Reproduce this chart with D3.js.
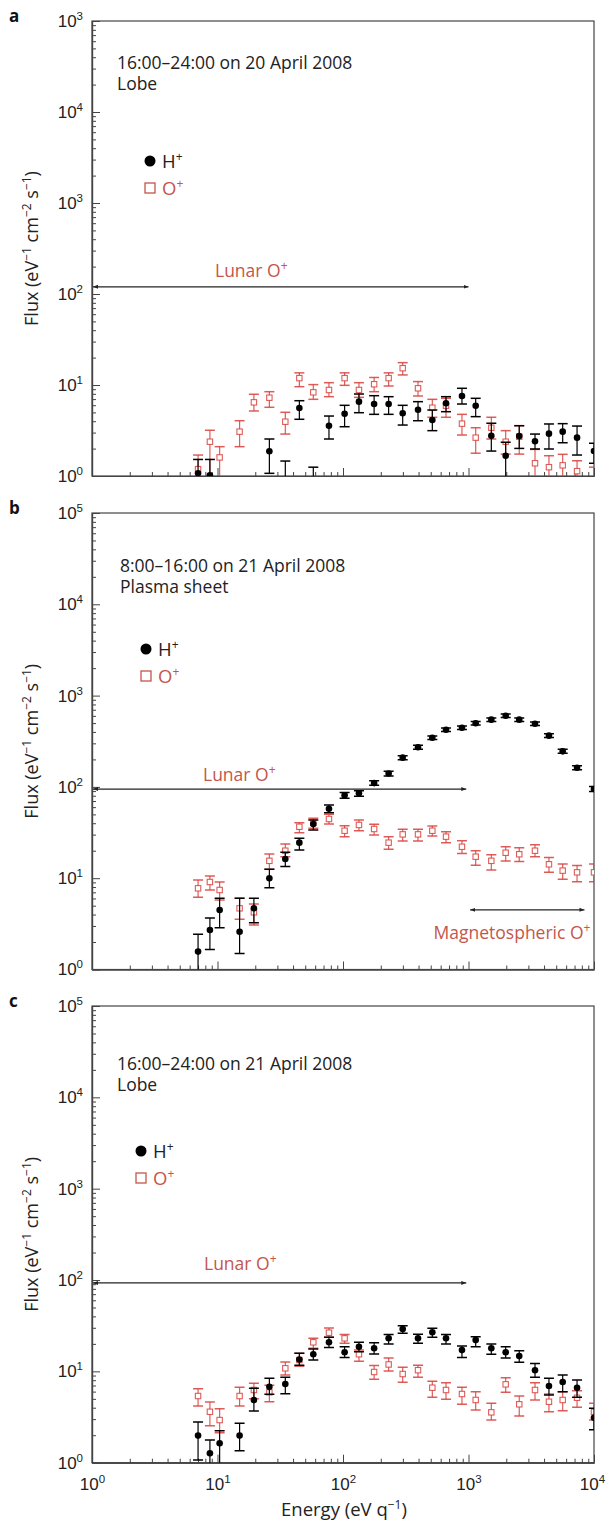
<!DOCTYPE html>
<html>
<head>
<meta charset="utf-8">
<script src="https://cdn.jsdelivr.net/npm/d3@7"></script>
<style>
    body { margin: 0; background: #fff; }
    svg { display: block; font-family: 'Open Sans', sans-serif; }
</style>
</head>
<body>
<svg class="canvas" width="606" height="1524"></svg>
<script>
// energy channels (eV q^-1), same for every panel
const energy = [7.0, 8.7, 10.4, 15.0, 19.5, 25.9, 34.7, 44.9, 58.0, 77.3, 103, 134, 177, 231,
    299, 396, 515, 662, 887, 1141, 1520, 1978, 2537, 3388, 4376, 5630, 7328, 10000];

// tick labels (exponents of 10), bottom to top
const yTickLabelsA = ['0', '1', '2', '3', '4', '3'];
const yTickLabels = ['0', '1', '2', '3', '4', '5'];
const xTickLabels = ['0', '1', '2', '3', '4'];

// panel a: 16:00-24:00 on 20 April 2008, lobe
const aH = [1.07, 1.02, null, null, null, 1.87, 0.8, 5.59, 0.8, 3.57, 4.84, 6.56, 6.18, 6.18,
    4.89, 5.35, 4.12, 6.29, 7.57, 5.92, 2.77, 1.67, 2.75, 2.41, 2.92, 3.07, 2.64, 1.88];
const aHLo = [0.5, 0.5, null, null, null, 1.07, 0.5, 4.2, 0.5, 2.55, 3.48, 4.96, 4.76, 4.76,
    3.63, 4.05, 3.15, 5.09, 6.18, 4.49, 1.88, 0.5, 2.01, 1.98, 1.98, 2.32, 1.7, 1.38];
const aHHi = [1.52, 1.52, null, null, null, 2.55, 1.46, 6.72, 1.25, 4.56, 5.98, 7.96, 7.63, 7.44,
    5.98, 6.56, 5.31, 7.44, 9.2, 7.14, 3.8, 2.35, 3.57, 2.89, 3.73, 3.76, 3.54, 2.29];
const aO = [1.19, 2.38, 1.6, 3.07, 6.45, 7.25, 3.95, 11.9, 8.31, 8.81, 11.9, 8.81, 10.2, 11.9,
    15.3, 9.2, 5.63, 5.92, 3.76, 2.64, 3.39, 2.38, 2.7, 1.38, 1.25, 1.31, 1.13, 0.9];
const aOLo = [0.9, 0.9, 0.9, 2.1, 5.18, 5.69, 2.89, 9.58, 6.96, 7.44, 9.92, 7.32, 8.44, 9.75,
    12.9, 7.57, 4.42, 4.42, 2.82, 1.78, 2.55, 1.74, 1.74, 0.9, 0.9, 0.9, 0.9, 0.5];
const aOHi = [1.7, 3.18, 2.1, 4.05, 7.91, 8.44, 5.01, 13.6, 10.1, 10.6, 13.6, 10.6, 12.1, 13.6,
    17.6, 10.9, 6.96, 7.14, 4.76, 3.39, 4.42, 3.15, 3.57, 1.96, 1.67, 1.73, 1.47, 1.25];

// panel b: 8:00-16:00 on 21 April 2008, plasma sheet
const bH = [1.57, 2.71, 4.49, 2.59, 4.68, 9.97, 16.2, 24.5, 39.2, 57.7, 80.9, 85.1, 110, 140,
    209, 272, 346, 423, 445, 498, 545, 602, 545, 492, 364, 245, 162, 94.8];
const bHLo = [0.5, 1.66, 2.87, 1.5, 3.26, 7.87, 13.4, 20.4, 33.7, 52.2, 75, 79, 104, 132,
    198, 258, 330, 404, 425, 476, 521, 576, 521, 470, 347, 233, 154, 89];
const bHHi = [2.43, 3.66, 6.03, 6.03, 6.03, 12.5, 19.2, 27.4, 43.4, 63.4, 87, 91, 117, 148,
    220, 286, 362, 442, 466, 521, 570, 629, 570, 515, 382, 258, 171, 101];
const bO = [7.75, 9.09, 7.43, 4.68, 4.23, 15.5, 20.0, 36.6, 40.5, 44.5, 33.1, 38.3, 34.6, 24.5,
    30.2, 30.2, 33.1, 28.5, 22.1, 17.2, 15.5, 19.0, 18.3, 20.0, 14.2, 12.1, 11.6, 11.6];
const bOLo = [6.18, 7.43, 5.77, 3.55, 3.07, 12.5, 17.2, 31.5, 35.2, 39.2, 28.5, 33.1, 29.7, 20.7,
    25.5, 25.5, 29.0, 24.5, 18.7, 13.9, 12.3, 15.4, 15.2, 17.2, 11.6, 9.73, 9.16, 9.16];
const bOHi = [9.56, 10.6, 9.09, 6.03, 5.22, 18.4, 23.7, 40.5, 45.3, 50.1, 37.6, 43.4, 38.9, 28.5,
    34.3, 34.3, 37.3, 32.3, 25.7, 20.0, 18.1, 22.1, 21.6, 23.3, 16.9, 14.3, 13.8, 14.3];

// panel c: 16:00-24:00 on 21 April 2008, lobe
const cH = [1.98, 1.27, 1.63, 1.98, 4.86, 6.79, 7.27, 13.5, 15.4, 20.8, 16.2, 18.6, 17.9, 23.0,
    29.1, 23.0, 26.8, 23.0, 17.1, 22.0, 17.9, 16.2, 14.7, 10.3, 6.91, 7.64, 6.62, 3.11];
const cHLo = [1.07, 0.5, 0.5, 1.35, 3.68, 5.61, 5.69, 11.7, 13.3, 18.3, 14.2, 16.4, 15.5, 19.9,
    26.1, 20.3, 23.6, 19.9, 14.2, 18.6, 15.4, 14.0, 12.6, 8.61, 5.51, 5.98, 5.2, 2.3];
const cHHi = [2.79, 1.77, 2.24, 2.7, 6.52, 8.4, 8.61, 15.8, 17.6, 23.6, 18.6, 20.8, 20.6, 25.4,
    31.6, 25.5, 29.6, 25.4, 18.9, 23.9, 19.9, 18.6, 16.8, 12.2, 8.4, 9.12, 8.04, 3.94];
const cO = [5.37, 3.61, 2.93, 5.37, 6.25, 5.89, 10.8, 13.3, 20.8, 26.5, 23.0, 15.4, 9.84, 11.9,
    9.35, 10.3, 6.62, 6.25, 5.65, 4.86, 3.56, 7.21, 4.36, 6.25, 4.65, 4.86, 5.14, 3.61];
const cOLo = [4.18, 2.54, 2.13, 4.18, 5.02, 4.65, 9.12, 11.4, 17.9, 23.6, 20.3, 12.9, 8.18, 10.1,
    7.59, 8.61, 5.2, 4.94, 4.36, 3.77, 2.93, 5.9, 3.25, 4.86, 3.61, 3.71, 4.04, 2.93];
const cOHi = [6.45, 4.62, 3.9, 6.69, 7.4, 7.03, 12.7, 15.8, 23.0, 29.8, 25.4, 17.1, 11.6, 14.0,
    11.1, 11.7, 7.78, 7.51, 6.69, 5.98, 4.47, 8.51, 5.37, 7.51, 5.65, 5.98, 6.14, 4.47];

// annotation ranges: [energy from, energy to, flux]
const lunarA = [1, 1000, 120];
const lunarB = [1, 960, 94.6];
const lunarC = [1, 960, 93];
const magnetoB = [1030, 8400, 4.5];

const red = '#d8403b';
const redText = '#c4564b';
const ink = '#222';

const svg = d3.select('.canvas');
const xLeft = 92;
const xRight = 594;

// shared x scale
const xScale = d3.scaleLog().domain([1, 1e4]).range([xLeft, xRight]);

const panels = [
    {
        letter: 'a', top: 21, bottom: 476, yLabels: yTickLabelsA,
        title: ['16:00–24:00 on 20 April 2008', 'Lobe'], titleX: 117, titleY: 69,
        legendX: 150, legendY: 161, lunar: lunarA, lunarTextX: 215, lunarTextY: 277,
        H: aH, HLo: aHLo, HHi: aHHi, O: aO, OLo: aOLo, OHi: aOHi
    },
    {
        letter: 'b', top: 513, bottom: 969.5, yLabels: yTickLabels,
        title: ['8:00–16:00 on 21 April 2008', 'Plasma sheet'], titleX: 120, titleY: 572,
        legendX: 146, legendY: 649, lunar: lunarB, lunarTextX: 203, lunarTextY: 781,
        H: bH, HLo: bHLo, HHi: bHHi, O: bO, OLo: bOLo, OHi: bOHi
    },
    {
        letter: 'c', top: 1006, bottom: 1462.7, yLabels: yTickLabels,
        title: ['16:00–24:00 on 21 April 2008', 'Lobe'], titleX: 117, titleY: 1070,
        legendX: 141, legendY: 1151, lunar: lunarC, lunarTextX: 204, lunarTextY: 1270,
        H: cH, HLo: cHLo, HHi: cHHi, O: cO, OLo: cOLo, OHi: cOHi
    }
];

// write text with superscripts; parts starting with ^ are raised
function richText(sel, parts, rise = 7, supSize = 11) {
    let raised = false;
    parts.forEach((p) => {
        const sup = p.startsWith('^');
        const t = sel.append('tspan').text(sup ? p.slice(1) : p);
        if (sup) {
            t.attr('font-size', supSize);
            if (!raised) t.attr('dy', -rise);
            raised = true;
        } else if (raised) {
            t.attr('dy', rise);
            raised = false;
        }
    });
}

// arrow heads
const defs = svg.append('defs');
['end', 'start'].forEach((kind) => {
    defs.append('marker')
        .attr('id', 'arrow-' + kind)
        .attr('viewBox', '0 0 10 10')
        .attr('refX', kind === 'end' ? 10 : 0)
        .attr('refY', 5)
        .attr('markerWidth', 5)
        .attr('markerHeight', 5)
        .attr('markerUnits', 'userSpaceOnUse')
        .attr('orient', 'auto')
        .append('path')
        .attr('d', kind === 'end' ? 'M0,1 L10,5 L0,9 Z' : 'M10,1 L0,5 L10,9 Z')
        .attr('fill', ink);
});

const majors = [1, 10, 100, 1000, 10000, 100000];
const minorsY = d3.range(0, 5).flatMap((k) => d3.range(2, 10).map((m) => m * 10 ** k));
const minorsX = d3.range(0, 4).flatMap((k) => d3.range(2, 10).map((m) => m * 10 ** k));

panels.forEach((p, pi) => {
    const yScale = d3.scaleLog().domain([1, 1e5]).range([p.bottom, p.top]);
    const g = svg.append('g');

    // clip for the marks
    defs.append('clipPath')
        .attr('id', 'clip-' + p.letter)
        .append('rect')
        .attr('x', xLeft)
        .attr('y', p.top)
        .attr('width', xRight - xLeft)
        .attr('height', p.bottom - p.top);

    // frame
    g.append('rect')
        .attr('x', xLeft)
        .attr('y', p.top)
        .attr('width', xRight - xLeft)
        .attr('height', p.bottom - p.top)
        .attr('fill', 'none')
        .attr('stroke', '#444')
        .attr('stroke-width', 1.2);

    // y axis, ticks pointing inward
    const yAxisMinor = d3.axisLeft(yScale).tickValues(minorsY).tickSizeInner(-4).tickSizeOuter(0).tickFormat('');
    const yAxisMajor = d3.axisLeft(yScale).tickValues(majors).tickSizeInner(-8).tickSizeOuter(0).tickPadding(9).tickFormat('');
    g.append('g').attr('transform', `translate(${xLeft},0)`).call(yAxisMinor);
    const yg = g.append('g').attr('transform', `translate(${xLeft},0)`).call(yAxisMajor);
    yg.selectAll('.tick text').each(function (d, i) {
        const t = d3.select(this).attr('font-size', 17).attr('fill', ink).attr('font-family', null);
        richText(t, ['10', '^' + p.yLabels[i]], 7, 11.5);
    });

    // x axis, ticks pointing inward
    const xAxisMinor = d3.axisBottom(xScale).tickValues(minorsX).tickSizeInner(-4).tickSizeOuter(0).tickFormat('');
    const xAxisMajor = d3.axisBottom(xScale).tickValues(majors.slice(0, 5)).tickSizeInner(-8).tickSizeOuter(0).tickPadding(15).tickFormat('');
    g.append('g').attr('transform', `translate(0,${p.bottom})`).call(xAxisMinor);
    const xg = g.append('g').attr('transform', `translate(0,${p.bottom})`).call(xAxisMajor);
    if (pi === 2) {
        xg.selectAll('.tick text').each(function (d, i) {
            const t = d3.select(this).attr('font-size', 17).attr('fill', ink).attr('font-family', null)
                .attr('dx', i === 4 ? -2 : 0);
            richText(t, ['10', '^' + xTickLabels[i]], 7, 11.5);
        });
    }
    g.selectAll('.domain').attr('stroke', '#444').attr('stroke-width', 1.2);
    g.selectAll('.tick line').attr('stroke', '#444').attr('stroke-width', 1);

    // panel letter
    g.append('text')
        .attr('x', 9)
        .attr('y', p.top + 1)
        .attr('font-size', 17)
        .attr('font-weight', 'bold')
        .attr('fill', '#111')
        .text(p.letter);

    // y-axis title
    const yt = g.append('text')
        .attr('transform', `translate(38,${(p.top + p.bottom) / 2}) rotate(-90)`)
        .attr('text-anchor', 'middle')
        .attr('font-size', 18)
        .attr('fill', ink);
    richText(yt, ['Flux (eV', '^−1', ' cm', '^−2', ' s', '^−1', ')'], 7, 12);

    // period / region text
    p.title.forEach((line, i) => {
        g.append('text')
            .attr('x', p.titleX)
            .attr('y', p.titleY + i * 21)
            .attr('font-size', 17.5)
            .attr('fill', ink)
            .text(line);
    });

    // legend
    g.append('circle')
        .attr('cx', p.legendX)
        .attr('cy', p.legendY)
        .attr('r', 5.5)
        .attr('fill', '#000');
    richText(g.append('text')
        .attr('x', p.legendX + 12)
        .attr('y', p.legendY + 7)
        .attr('font-size', 18.5)
        .attr('fill', ink), ['H', '^+'], 7, 12);
    g.append('rect')
        .attr('x', p.legendX - 5)
        .attr('y', p.legendY + 22)
        .attr('width', 10)
        .attr('height', 10)
        .attr('fill', 'none')
        .attr('stroke', redText)
        .attr('stroke-width', 1.3);
    richText(g.append('text')
        .attr('x', p.legendX + 12)
        .attr('y', p.legendY + 34)
        .attr('font-size', 18.5)
        .attr('fill', redText), ['O', '^+'], 7, 12);

    // lunar O+ range
    g.append('line')
        .attr('x1', xScale(p.lunar[0]) + 1)
        .attr('x2', xScale(p.lunar[1]))
        .attr('y1', yScale(p.lunar[2]))
        .attr('y2', yScale(p.lunar[2]))
        .attr('stroke', ink)
        .attr('stroke-width', 1.2)
        .attr('marker-start', 'url(#arrow-start)')
        .attr('marker-end', 'url(#arrow-end)');
    richText(g.append('text')
        .attr('x', p.lunarTextX)
        .attr('y', p.lunarTextY)
        .attr('font-size', 17.5)
        .attr('fill', redText), ['Lunar O', '^+'], 7, 12);

    // magnetospheric O+ range (panel b only)
    if (pi === 1) {
        g.append('line')
            .attr('x1', xScale(magnetoB[0]))
            .attr('x2', xScale(magnetoB[1]))
            .attr('y1', yScale(magnetoB[2]))
            .attr('y2', yScale(magnetoB[2]))
            .attr('stroke', ink)
            .attr('stroke-width', 1.2)
            .attr('marker-start', 'url(#arrow-start)')
            .attr('marker-end', 'url(#arrow-end)');
        richText(g.append('text')
            .attr('x', 512)
            .attr('y', yScale(magnetoB[2]) + 29)
            .attr('text-anchor', 'middle')
            .attr('font-size', 17.5)
            .attr('fill', redText), ['Magnetospheric O', '^+'], 7, 12);
    }

    // data marks
    const marks = g.append('g').attr('clip-path', `url(#clip-${p.letter})`);
    const series = [
        { v: p.O, lo: p.OLo, hi: p.OHi, color: red, kind: 'square' },
        { v: p.H, lo: p.HLo, hi: p.HHi, color: '#000', kind: 'dot' }
    ];
    series.forEach((s) => {
        const pts = energy
            .map((e, i) => ({ e, v: s.v[i], lo: s.lo[i], hi: s.hi[i] }))
            .filter((d) => d.v != null);
        const sg = marks.append('g').attr('stroke', s.color).attr('stroke-opacity', s.kind === 'square' ? 0.85 : 1);
        sg.selectAll('.bar')
            .data(pts)
            .enter()
            .append('line')
            .attr('x1', (d) => xScale(d.e))
            .attr('x2', (d) => xScale(d.e))
            .attr('y1', (d) => yScale(d.lo))
            .attr('y2', (d) => yScale(d.hi))
            .attr('stroke-width', 1.2);
        ['lo', 'hi'].forEach((k) => {
            sg.selectAll('.cap-' + k)
                .data(pts)
                .enter()
                .append('line')
                .attr('x1', (d) => xScale(d.e) - 5)
                .attr('x2', (d) => xScale(d.e) + 5)
                .attr('y1', (d) => yScale(d[k]))
                .attr('y2', (d) => yScale(d[k]))
                .attr('stroke-width', 1.5);
        });
        if (s.kind === 'square') {
            sg.selectAll('rect')
                .data(pts)
                .enter()
                .append('rect')
                .attr('x', (d) => xScale(d.e) - 2.7)
                .attr('y', (d) => yScale(d.v) - 2.7)
                .attr('width', 5.4)
                .attr('height', 5.4)
                .attr('fill', '#fff')
                .attr('stroke-width', 1.1);
        } else {
            sg.selectAll('circle')
                .data(pts)
                .enter()
                .append('circle')
                .attr('cx', (d) => xScale(d.e))
                .attr('cy', (d) => yScale(d.v))
                .attr('r', 3.3)
                .attr('fill', '#000')
                .attr('stroke', 'none');
        }
    });
});

// x-axis title under the last panel
richText(svg.append('text')
    .attr('x', 344)
    .attr('y', 1516)
    .attr('text-anchor', 'middle')
    .attr('font-size', 18.5)
    .attr('fill', ink), ['Energy (eV q', '^−1', ')'], 7, 12);
</script>
</body>
</html>
